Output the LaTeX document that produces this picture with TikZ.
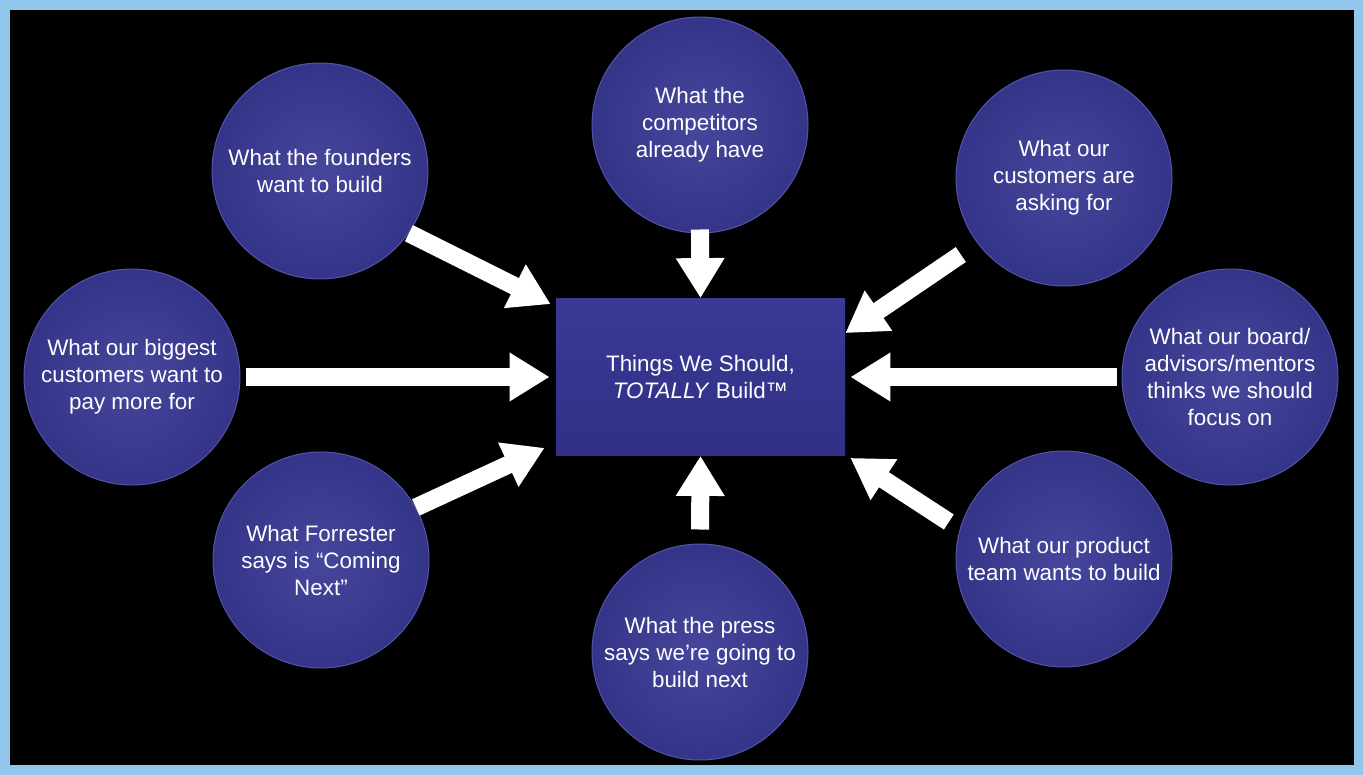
\documentclass[tikz,border=0pt]{standalone}
\usepackage{fontspec}
\setmainfont{Liberation Sans}
\usetikzlibrary{arrows.meta,calc}
\definecolor{marco}{RGB}{146,198,234}
\definecolor{bolain}{RGB}{70,70,156}
\definecolor{bolaout}{RGB}{52,52,136}
\definecolor{bolaborde}{RGB}{84,84,172}
\definecolor{cajaarriba}{RGB}{58,58,150}
\definecolor{cajaabajo}{RGB}{48,48,134}

\begin{document}
\begin{tikzpicture}[x=0.5pt, y=-0.5pt,
  bola/.style={circle, minimum size=108pt, inner sep=0pt, align=center,
    inner color=bolain, outer color=bolaout, draw=bolaborde, line width=0.5pt,
    text=white, font=\fontsize{11.2}{13.5}\selectfont},
  caja/.style={rectangle, minimum width=144.5pt, minimum height=78.5pt, align=center,
    top color=cajaarriba, bottom color=cajaabajo,
    text=white, font=\fontsize{11.2}{13.5}\selectfont},
  flecha/.style={draw=white, line width=9pt, -{Triangle[width=23pt,length=20pt]}}]
% Fondo
\fill[marco] (0,0) rectangle (1363,775);
\fill[black] (10,10) rectangle (1354,765);
% Nodos
\node [caja] (centro) at (700.5,377) {Things We Should,\\\textit{TOTALLY} Build™};
\node [bola] (fundadores)   at (320,171)  {What the founders\\want to build};
\node [bola] (competidores) at (700,125)  {What the\\competitors\\already have};
\node [bola] (clientes)     at (1064,178) {What our\\customers are\\asking for};
\node [bola] (grandes)      at (132,377)  {What our biggest\\customers want to\\pay more for};
\node [bola] (junta)        at (1230,377) {What our board/\\advisors/mentors\\thinks we should\\focus on};
\node [bola] (forrester)    at (321,560)  {What Forrester\\says is “Coming\\Next”};
\node [bola] (prensa)       at (700,652)  {What the press\\says we’re going to\\build next};
\node [bola] (producto)     at (1064,559) {What our product\\team wants to build};
% Flechas
% ---
% arriba
% ---
\path (fundadores.-35) edge [flecha] ($(centro.north west)+(-5,6)$);

\path (competidores.south) edge [flecha, shorten <=-2pt] (centro.north);

\path (clientes.217) edge [flecha, shorten <=10pt] ($(centro.north east)+(0,35)$);
% ---
% lados
% ---
\path (grandes.east) edge [flecha, shorten <=2.5pt, shorten >=3pt] (centro.west);

\path (junta.west) edge [flecha, shorten <=2.5pt, shorten >=2.5pt] (centro.east);
% ---
% abajo
% ---
\path (forrester.29) edge [flecha] ($(centro.south west)+(-11,-8)$);

\path (prensa.north) edge [flecha, shorten <=7pt] (centro.south);

\path (producto.164) edge [flecha, shorten <=6.5pt] ($(centro.south east)+(5,2)$);
\end{tikzpicture}
\end{document}
